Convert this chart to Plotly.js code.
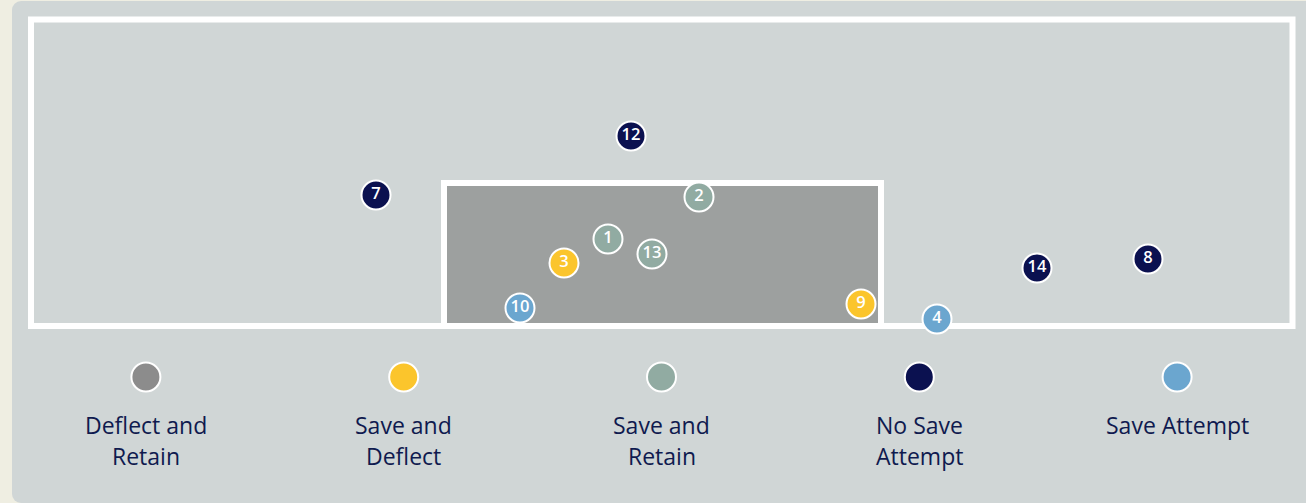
<!DOCTYPE html>
<html>
<head>
<meta charset="utf-8">
<script src="https://cdn.plot.ly/plotly-3.0.1.min.js"></script>
<style>
	html, body { margin: 0; padding: 0; background: #efeee2; overflow: hidden; }
	#panel { position: absolute; left: 12px; top: 1px; width: 1310px; height: 502px; background: #d0d6d6; border-radius: 9px; }
	#shot_map { position: absolute; left: 0; top: 0; width: 1306px; height: 503px; }
</style>
</head>
<body>
<div id="panel"></div>
<div id="shot_map"></div>
<script>
// shots, position in map units (x to the right, y downwards)
var shotNumbers = ['12', '7', '2', '1', '13', '3', '10', '9', '4', '14', '8'];
var shotX = [631, 376, 699, 608, 652, 564, 520, 861, 937, 1037, 1148];
var shotY = [136, 195, 197, 239, 254, 263, 308, 304, 319, 268, 259];
var shotOutcome = ['No Save Attempt', 'No Save Attempt', 'Save and Retain', 'Save and Retain', 'Save and Retain',
	'Save and Deflect', 'Save Attempt', 'Save and Deflect', 'Save Attempt', 'No Save Attempt', 'No Save Attempt'];

var outcomes = ['Deflect and Retain', 'Save and Deflect', 'Save and Retain', 'No Save Attempt', 'Save Attempt'];
var outcomeLabels = ['Deflect and\nRetain', 'Save and\nDeflect', 'Save and\nRetain', 'No Save\nAttempt', 'Save Attempt'];
var outcomeColors = ['#8c8c8c', '#fbc52c', '#91aba2', '#0b1150', '#6ba6cf'];

window.onload = function () {
	drawShotMap();
}

function colorFor(outcome) {
	return outcomeColors[outcomes.indexOf(outcome)];
}

function drawShotMap() {
	var target = document.getElementById('shot_map');
	var navy = '#0f1a4f';

	var shots = {
		x: shotX,
		y: shotY,
		text: shotNumbers,
		mode: 'markers+text',
		type: 'scatter',
		textposition: 'middle center',
		textfont: {family: 'Open Sans', size: 16.5, color: '#ffffff', weight: 600},
		marker: {
			size: 29,
			color: shotOutcome.map(colorFor),
			line: {color: '#ffffff', width: 2}
		},
		hoverinfo: 'none',
		cliponaxis: false
	};

	var legendDots = {
		x: outcomes,
		y: outcomes.map(function () { return 377; }),
		xaxis: 'x2',
		mode: 'markers',
		type: 'scatter',
		marker: {
			size: 29,
			color: outcomeColors,
			line: {color: '#ffffff', width: 2}
		},
		hoverinfo: 'none',
		cliponaxis: false
	};

	var annotations = [];
	outcomes.forEach(function (name, i) {
		outcomeLabels[i].split('\n').forEach(function (line, j) {
			annotations.push({
				x: name, xref: 'x2',
				y: 425 + j * 31, yref: 'y',
				text: line,
				showarrow: false,
				xanchor: 'center', yanchor: 'middle',
				font: {family: 'Open Sans', size: 23, color: navy}
			});
		});
	});

	var layout = {
		width: 1306,
		height: 503,
		margin: {l: 0, r: 0, t: 0, b: 0},
		paper_bgcolor: 'rgba(0,0,0,0)',
		plot_bgcolor: 'rgba(0,0,0,0)',
		showlegend: false,
		xaxis: {range: [0, 1306], visible: false, fixedrange: true},
		xaxis2: {type: 'category', range: [-0.5, 4.5], domain: [17 / 1306, 1], anchor: 'y', visible: false},
		yaxis: {range: [503, 0], visible: false, fixedrange: true},
		shapes: [
			{type: 'rect', xref: 'x', yref: 'y', x0: 31, x1: 1292.5, y0: 19.5, y1: 326,
				line: {color: '#ffffff', width: 6}, layer: 'below'},
			{type: 'rect', xref: 'x', yref: 'y', x0: 444, x1: 881, y0: 183, y1: 326,
				fillcolor: '#9da09f', line: {color: '#ffffff', width: 6}, layer: 'below'}
		],
		annotations: annotations
	};

	Plotly.newPlot(target, [shots, legendDots], layout, {displayModeBar: false, staticPlot: true});
}
</script>
</body>
</html>
